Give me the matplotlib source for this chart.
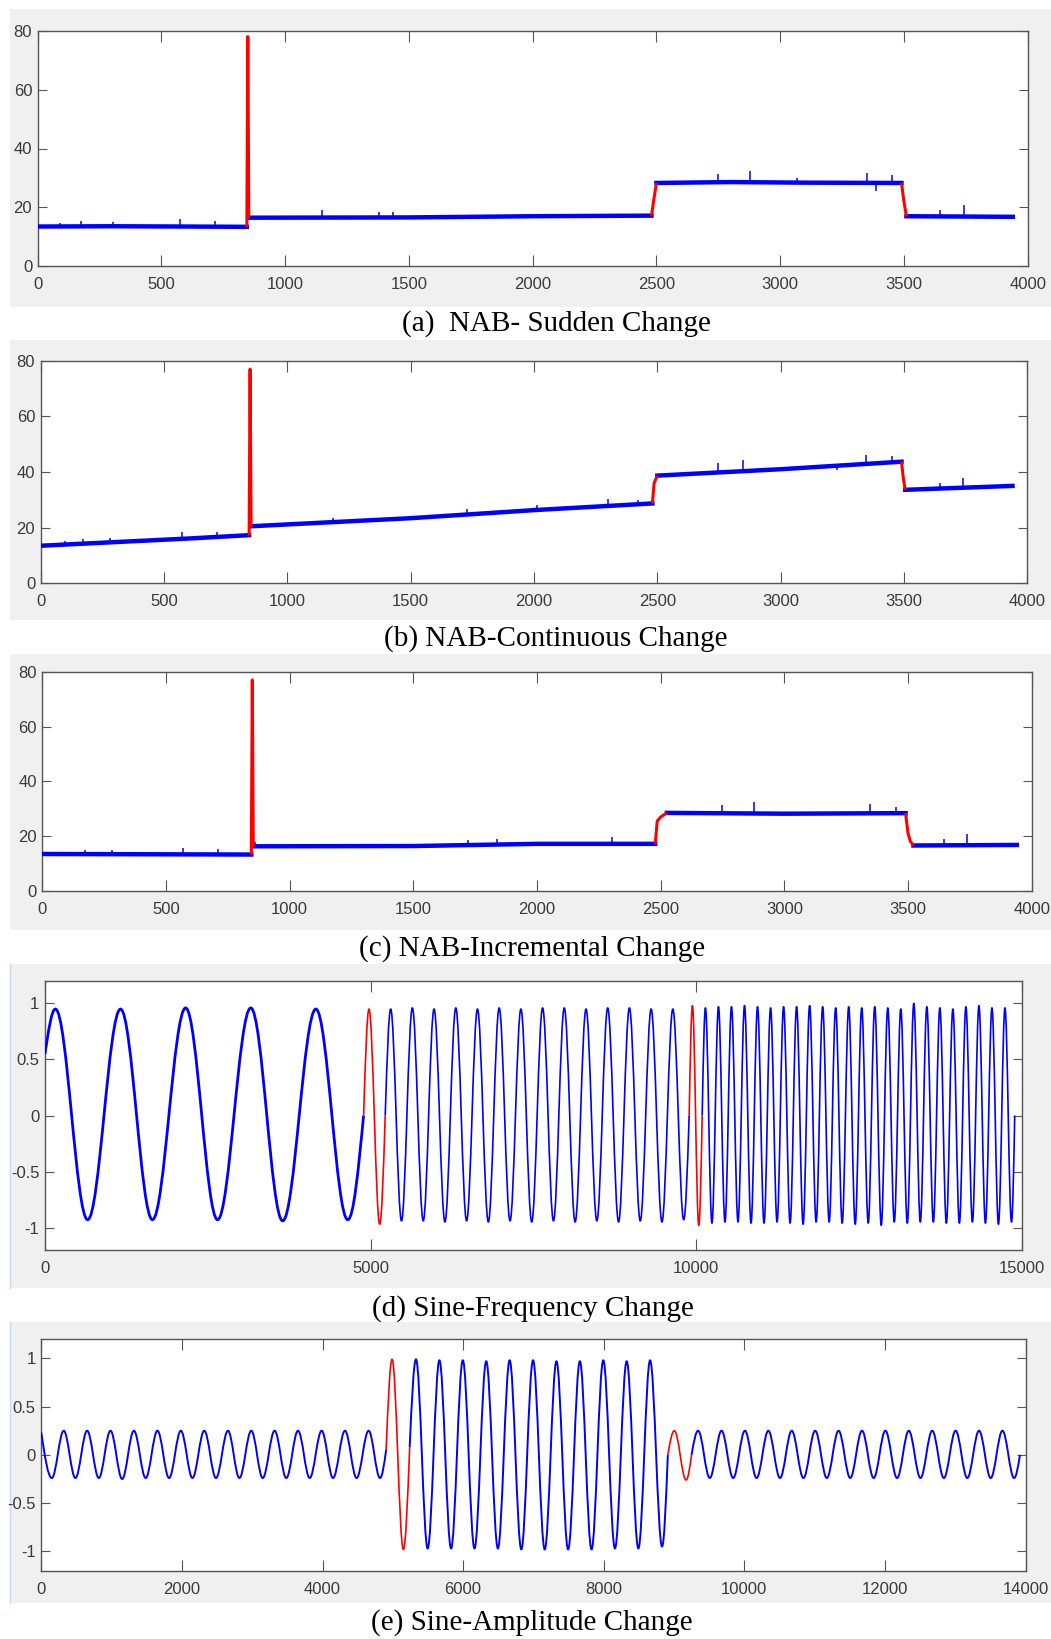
import matplotlib
matplotlib.use("Agg")
import matplotlib.pyplot as plt
from matplotlib.patches import Rectangle, PathPatch
from matplotlib.path import Path
import numpy as np

W, H = 1051, 1639

# ---------------- data ----------------
# (a) NAB sudden change: level nodes, red = change regions
sudden_x = [0, 300, 600, 845, 849, 853, 1500, 2000, 2480, 2490, 2500, 2800, 3100, 3490, 3500, 3510, 3940]
sudden_y = [13.5, 13.6, 13.5, 13.4, 78.0, 16.5, 16.6, 17.0, 17.2, 23.0, 28.3, 28.6, 28.4, 28.3, 22.0, 17.0, 16.8]
sudden_red = [(845, 853), (2480, 2500), (3490, 3510)]
sudden_spikes = [(90, 13.5, 14.8), (175, 13.5, 15.3), (305, 13.5, 15.1), (575, 13.5, 15.9),
                 (717, 13.5, 15.3), (1148, 16.5, 19.0), (1380, 16.6, 18.5), (1437, 16.6, 18.4),
                 (2749, 28.5, 31.3), (2878, 28.5, 32.5), (3067, 28.5, 30.0), (3349, 28.4, 31.6),
                 (3386, 25.7, 28.4), (3452, 28.3, 31.0), (3646, 16.8, 19.1), (3743, 16.8, 20.8)]

# (b) NAB continuous change
cont_x = [0, 300, 600, 845, 849, 853, 1500, 2000, 2480, 2487, 2500, 3000, 3490, 3497, 3505, 3940]
cont_y = [13.5, 14.8, 16.1, 17.3, 77.0, 20.5, 23.4, 26.3, 28.7, 36.0, 38.7, 41.0, 43.7, 38.0, 33.6, 35.0]
cont_red = [(845, 853), (2480, 2500), (3490, 3505)]
cont_spikes = [(98, 13.8, 15.3), (173, 14.2, 15.8), (281, 14.7, 16.2), (571, 16.0, 18.5),
               (713, 16.7, 18.5), (1186, 21.9, 23.5), (1727, 25.0, 26.8), (2011, 26.4, 28.1),
               (2301, 27.8, 30.2), (2422, 28.4, 30.0), (2747, 39.8, 43.1), (2847, 40.3, 44.3),
               (3229, 40.7, 42.5), (3348, 43.2, 46.1), (3453, 43.5, 45.9), (3645, 34.0, 36.2),
               (3740, 34.3, 37.7)]

# (c) NAB incremental change
incr_x = [0, 845, 849, 853, 1500, 2000, 2478, 2486, 2500, 2525, 3000, 3490, 3500, 3510, 3522, 3940]
incr_y = [13.5, 13.3, 77.0, 16.3, 16.4, 17.2, 17.2, 25.5, 27.0, 28.5, 28.2, 28.4, 21.0, 18.0, 16.6, 16.8]
incr_red = [(845, 853), (2478, 2525), (3490, 3522)]
incr_spikes = [(172, 13.5, 15.0), (280, 13.5, 15.0), (570, 13.5, 15.6), (711, 13.4, 15.2),
               (860, 16.3, 17.8), (1722, 16.8, 18.6), (1837, 16.9, 18.9), (2302, 17.2, 19.8),
               (2746, 28.3, 31.4), (2877, 28.3, 32.6), (3345, 28.3, 31.6), (3451, 28.4, 30.8),
               (3646, 16.8, 19.0), (3739, 16.8, 20.7)]

# (d) sine frequency change: turning points (peaks / troughs) and segment ends
freq_x = [0, 160, 655, 1160, 1650, 2160, 2650, 3160, 3650, 4160, 4650, 4893,
          4976, 5140, 5225,
          5309, 5475, 5642, 5809, 5975, 6142, 6309, 6475, 6642, 6809, 6975, 7142, 7309, 7475,
          7642, 7809, 7975, 8142, 8309, 8475, 8642, 8809, 8975, 9142, 9309, 9475, 9642, 9809, 9893,
          9943, 10040, 10093,
          10143, 10243, 10343, 10443, 10543, 10643, 10743, 10843, 10943, 11043, 11143, 11243,
          11343, 11443, 11543, 11643, 11743, 11843, 11943, 12043, 12143, 12243, 12343, 12443,
          12543, 12643, 12743, 12843, 12943, 13043, 13143, 13243, 13343, 13443, 13543, 13643,
          13743, 13843, 13943, 14043, 14143, 14243, 14343, 14443, 14543, 14643, 14743, 14843, 14893]
freq_y = [0.55, 0.95, -0.93, 0.95, -0.93, 0.96, -0.93, 0.96, -0.94, 0.95, -0.93, 0.0,
          0.95, -0.97, 0.0,
          0.95, -0.94, 0.96, -0.94, 0.95, -0.95, 0.96, -0.94, 0.95, -0.95, 0.96, -0.94, 0.95, -0.95,
          0.96, -0.94, 0.96, -0.95, 0.95, -0.94, 0.96, -0.95, 0.96, -0.94, 0.95, -0.95, 0.95, -0.93, 0.0,
          0.98, -0.98, 0.0,
          0.96, -0.96, 0.97, -0.95, 0.97, -0.95, 0.98, -0.96, 0.97, -0.96, 0.96, -0.95,
          0.97, -0.96, 0.97, -0.97, 0.98, -0.95, 0.97, -0.95, 0.96, -0.96, 0.97, -0.97,
          0.96, -0.96, 0.97, -0.98, 0.96, -0.95, 0.95, -0.96, 1.00, -0.95, 0.97, -0.95,
          0.96, -0.96, 0.95, -0.96, 0.97, -0.95, 0.98, -0.96, 0.96, -0.97, 0.96, -0.95, 0.0]
freq_red = [(4893, 5225), (9893, 10093)]

# (e) sine amplitude change
amp_x = [0, 150, 319, 485, 652, 818, 984, 1150, 1317, 1485, 1652, 1818, 1985, 2150, 2318, 2485,
         2655, 2818, 2987, 3150, 3319, 3485, 3652, 3818, 3988, 4150, 4320, 4485, 4656, 4818, 4905,
         4990, 5150, 5240,
         5330, 5496, 5663, 5829, 5996, 6162, 6329, 6495, 6662, 6828, 6995, 7161, 7328, 7494,
         7661, 7827, 7994, 8160, 8327, 8493, 8660, 8830, 8912,
         9005, 9172, 9250,
         9343, 9509, 9676, 9842, 10009, 10175, 10342, 10508, 10675, 10841, 11008, 11174,
         11341, 11507, 11674, 11840, 12007, 12173, 12340, 12506, 12673, 12839, 13006, 13172,
         13339, 13505, 13672, 13838, 13921]
amp_y = [0.23, -0.24, 0.25, -0.24, 0.25, -0.24, 0.25, -0.25, 0.25, -0.24, 0.25, -0.24, 0.25, -0.24, 0.25, -0.24,
         0.25, -0.24, 0.25, -0.24, 0.25, -0.24, 0.25, -0.24, 0.25, -0.24, 0.25, -0.24, 0.25, -0.24, 0.05,
         0.99, -0.98, 0.08,
         0.99, -0.97, 0.98, -0.97, 0.98, -0.97, 0.97, -0.97, 0.98, -0.98, 0.98, -0.98, 0.97, -0.98,
         0.97, -0.98, 0.98, -0.97, 0.97, -0.97, 0.98, -0.95, 0.0,
         0.25, -0.26, 0.0,
         0.25, -0.24, 0.25, -0.24, 0.25, -0.24, 0.25, -0.24, 0.25, -0.24, 0.25, -0.24,
         0.25, -0.24, 0.25, -0.24, 0.25, -0.24, 0.25, -0.24, 0.25, -0.24, 0.25, -0.24,
         0.25, -0.24, 0.25, -0.24, 0.0]
amp_red = [(4905, 5240), (8912, 9250)]

captions = ["(a)  NAB- Sudden Change", "(b) NAB-Continuous Change", "(c) NAB-Incremental Change",
            "(d) Sine-Frequency Change", "(e) Sine-Amplitude Change"]

# ---------------- layout (pixels) ----------------
grey_boxes = [(10, 9, 1051, 307), (10, 340, 1051, 620), (10, 654, 1051, 930),
              (10, 964, 1051, 1288), (10, 1322, 1051, 1603)]
axes_boxes = [(37.7, 30.7, 1027.7, 266.3), (40.7, 360.7, 1027.3, 583.3), (42.3, 671.7, 1031.7, 891),
              (45, 981, 1021.7, 1250), (41.3, 1339, 1025.5, 1570.7)]
caption_pos = [(556, 324), (556, 639), (532, 949), (533, 1309), (532, 1623)]

BLUE = "#0000ff"
RED = "#ff0000"
GREY_TXT = "#3a3a3a"
TICK_FONT = ["Liberation Sans Narrow", "Liberation Sans", "DejaVu Sans"]


def split_segments(xs, ys, spans):
    xs = np.asarray(xs, float)
    ys = np.asarray(ys, float)
    edges = [xs[0]]
    for a, b in spans:
        edges += [a, b]
    edges.append(xs[-1])
    segs = []
    for i in range(len(edges) - 1):
        m = (xs >= edges[i]) & (xs <= edges[i + 1])
        segs.append((xs[m], ys[m], i % 2 == 1))
    return segs


def smooth_path(xs, ys):
    # bezier through turning points, flat tangents at peaks/troughs
    n = len(xs)
    slopes = np.zeros(n)
    slopes[0] = np.pi / 2 * (ys[1] - ys[0]) / (xs[1] - xs[0])
    slopes[-1] = np.pi / 2 * (ys[-1] - ys[-2]) / (xs[-1] - xs[-2])
    verts = [(xs[0], ys[0])]
    codes = [Path.MOVETO]
    for i in range(n - 1):
        dx = xs[i + 1] - xs[i]
        k0 = 0.364 if slopes[i] == 0 else 1 / 3
        k1 = 0.364 if slopes[i + 1] == 0 else 1 / 3
        verts += [(xs[i] + k0 * dx, ys[i] + slopes[i] * k0 * dx),
                  (xs[i + 1] - k1 * dx, ys[i + 1] - slopes[i + 1] * k1 * dx),
                  (xs[i + 1], ys[i + 1])]
        codes += [Path.CURVE4] * 3
    return Path(verts, codes)


def px_rect(box):
    l, t, r, b = box
    return [l / W, 1 - b / H, (r - l) / W, (b - t) / H]


def style_axes(ax, xlim, xticks, ylim, yticks, ylabels=None):
    ax.set_xlim(*xlim)
    ax.set_ylim(*ylim)
    ax.set_xticks(xticks)
    ax.set_yticks(yticks)
    ax.set_xticklabels([str(int(v)) for v in xticks])
    if ylabels is None:
        ylabels = [str(int(v)) for v in yticks]
    ax.set_yticklabels(ylabels)
    for sp in ax.spines.values():
        sp.set_color("#555555")
        sp.set_linewidth(1.0)
    ax.tick_params(axis="x", direction="in", top=True, length=8, width=0.8, pad=8,
                   color="#555555", labelcolor=GREY_TXT, labelsize=12)
    ax.tick_params(axis="y", direction="in", right=True, length=6.5, width=0.8, pad=4,
                   color="#555555", labelcolor=GREY_TXT, labelsize=12)
    for lab in ax.get_xticklabels() + ax.get_yticklabels():
        lab.set_fontfamily(TICK_FONT)


fig = plt.figure(figsize=(W / 100, H / 100), dpi=100)
fig.patch.set_facecolor("white")

for box in grey_boxes:
    l, t, r, b = box
    fig.add_artist(Rectangle((l / W, 1 - b / H), (r - l) / W, (b - t) / H,
                             transform=fig.transFigure, facecolor="#f0f0f0",
                             edgecolor="none", zorder=-2))
for box in grey_boxes[3:]:
    l, t, r, b = box
    fig.add_artist(plt.Line2D([l / W, l / W], [1 - b / H, 1 - t / H], transform=fig.transFigure,
                              color="#c9d9f0", lw=1.0, zorder=-1))

nab_sets = [(sudden_x, sudden_y, sudden_red, sudden_spikes),
            (cont_x, cont_y, cont_red, cont_spikes),
            (incr_x, incr_y, incr_red, incr_spikes)]

for i, (xs, ys, spans, spikes) in enumerate(nab_sets):
    ax = fig.add_axes(px_rect(axes_boxes[i]))
    ax.set_facecolor("white")
    sx = [s[0] for s in spikes]
    ax.vlines(sx, [s[1] for s in spikes], [s[2] for s in spikes], color=BLUE, lw=1.1, zorder=2)
    for sxs, sys_, red in split_segments(xs, ys, spans):
        if red:
            ax.plot(sxs, sys_, color=RED, lw=2.2, zorder=4, solid_capstyle="butt")
        else:
            ax.plot(sxs, sys_, color=BLUE, lw=3.2, zorder=3, solid_joinstyle="round")
    style_axes(ax, (0, 4000), list(range(0, 4001, 500)), (0, 80), [0, 20, 40, 60, 80])

sine_sets = [(freq_x, freq_y, freq_red, (0, 15000), [0, 5000, 10000, 15000], [2.0, 1.2, 1.2, 1.2, 1.2]),
             (amp_x, amp_y, amp_red, (0, 14000), list(range(0, 14001, 2000)), [1.4, 1.2, 1.4, 1.2, 1.4])]

for j, (xs, ys, spans, xlim, xticks, lws) in enumerate(sine_sets):
    ax = fig.add_axes(px_rect(axes_boxes[3 + j]))
    ax.set_facecolor("white")
    for k, (sxs, sys_, red) in enumerate(split_segments(xs, ys, spans)):
        path = smooth_path(sxs, sys_)
        ax.add_patch(PathPatch(path, fill=False, edgecolor=RED if red else BLUE,
                               lw=lws[k], zorder=3, joinstyle="round"))
    style_axes(ax, xlim, xticks, (-1.2, 1.2), [-1, -0.5, 0, 0.5, 1],
               ["-1", "-0.5", "0", "0.5", "1"])

for text, (cx, cy) in zip(captions, caption_pos):
    fig.text(cx / W, 1 - cy / H, text, ha="center", va="center",
             fontfamily="Liberation Serif", fontsize=21, color="black")

fig.savefig("out.png", dpi=100, facecolor="white")
